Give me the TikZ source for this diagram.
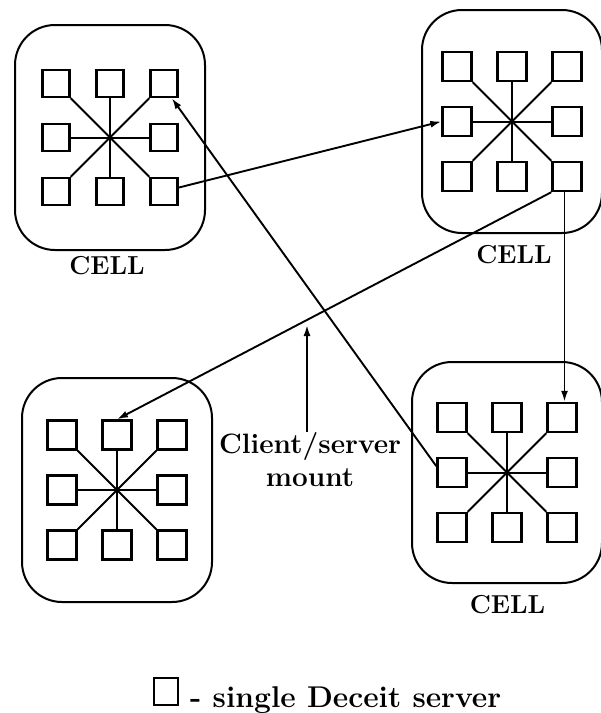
\documentclass[tikz,border=0pt]{standalone}
\usetikzlibrary{arrows.meta,calc}
\tikzset{
  cellbox/.style={draw, line width=2pt, rounded corners=40pt, inner sep=0pt},
  srv/.style={draw, line width=2.4pt, rectangle, inner sep=0pt},
  spoke/.style={line width=2pt},
  conn/.style={line width=1.9pt, -{Latex[length=11pt,width=7pt]}},
  celltext/.style={font=\fontsize{26}{32}\selectfont\bfseries, inner sep=0pt},
  bigtext/.style={font=\fontsize{28}{33}\selectfont\bfseries, inner sep=1pt, align=center},
  legtext/.style={font=\fontsize{30}{36}\selectfont\bfseries, inner sep=0pt},
}
% name, cx, cy, w, h, square size, spacing
\newcommand{\mycell}[7]{%
  \node[cellbox, minimum width=#4pt, minimum height=#5pt] (#1) at (#2,#3) {};
  \coordinate (#1h) at (#2,#3);
  \foreach \r/\c in {1/1,1/2,1/3,2/1,2/3,3/1,3/2,3/3} {
    \node[srv, minimum size=#6pt] (#1\r\c) at ({#2+(\c-2)*#7},{#3+(\r-2)*#7}) {};
    \draw[spoke] (#1h) -- (#1\r\c);
  }%
}
\begin{document}
\begin{tikzpicture}[x=1pt,y=-1pt]
\useasboundingbox (0,0) rectangle (601,713);
\mycell{a}{110}{137.5}{190}{225}{27}{54}
\mycell{b}{512}{121.5}{180}{223}{29}{55}
\mycell{c}{117}{490}{190}{224}{29}{55}
\mycell{d}{507}{472.5}{190}{221}{29}{55}

\node[celltext] (la) at (107,266) {CELL};
\node[celltext] (lb) at (514,255) {CELL};
\node[celltext] (ld) at (507.5,605) {CELL};

% connectors
\draw[conn] (a33.15) -- (b21.west);
\draw[conn] (d21.158) -- (a13.-62);
\draw[conn] (b33.south west) -- (c12.north);
\coordinate (v) at ($(b33.south)!.5!(d13.north)$);
\draw[conn] (b33.south -| v) -- (d13.north -| v);

% label
\node[bigtext] (mnt) at (310,460) {Client/server\\mount};
\coordinate (mtip) at (307,325);
\draw[conn] (mnt.north -| mtip) -- (mtip);

% legend
\node[srv, minimum width=24pt, minimum height=27pt] (leg) at (166,691.5) {};
\node[legtext, anchor=base west] (legtxt) at (190,707) {- single Deceit server};
\end{tikzpicture}
\end{document}
